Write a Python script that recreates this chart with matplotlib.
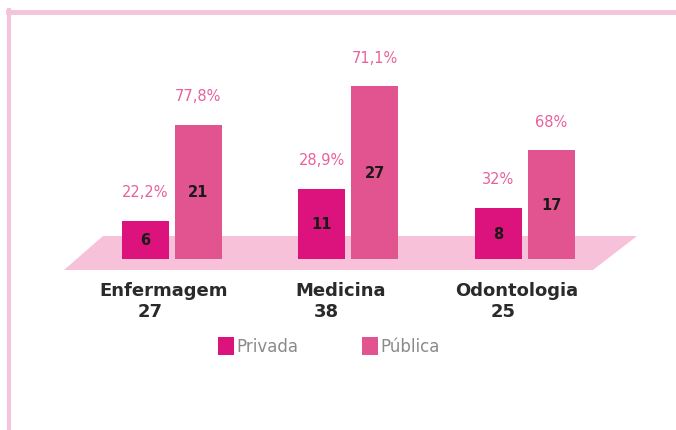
import matplotlib
matplotlib.use("Agg")
import matplotlib.pyplot as plt
from matplotlib.patches import Polygon, Patch
from matplotlib.lines import Line2D
import numpy as np

categories = ["Enfermagem", "Medicina", "Odontologia"]
totals = [27, 38, 25]
privada = [6, 11, 8]
publica = [21, 27, 17]
pct_privada = ["22,2%", "28,9%", "32%"]
pct_publica = ["77,8%", "71,1%", "68%"]
series_names = ["Privada", "Pública"]

C_PRIV = "#dc137c"
C_PUB = "#e2548f"
C_FLOOR = "#f6c1d9"
C_PCT = "#e8619d"
C_FRAME = "#f5c3da"

W, H, DPI = 676, 431, 100
fig = plt.figure(figsize=(W / DPI, H / DPI), dpi=DPI)
fig.patch.set_facecolor("white")

# frame lines (top and left)
fig.add_artist(Line2D([7.5 / W, 1.0], [1 - 12.5 / H, 1 - 12.5 / H], color=C_FRAME, lw=3.5,
                      transform=fig.transFigure))
fig.add_artist(Line2D([8.5 / W, 8.5 / W], [0, 1 - 11 / H], color=C_FRAME, lw=3,
                      transform=fig.transFigure))

# axes: baseline at pixel y=260, 6.4 px per unit
base_px = 260
ppu = 6.4
ymax = 40
ax_h = ppu * ymax
ax = fig.add_axes([0, (H - base_px) / H, 1, ax_h / H])
spacing = 176.5
x0 = 171.75
ax.set_xlim(-x0 / spacing, (W - x0) / spacing)
ax.set_ylim(0, ymax)
ax.axis("off")

x = np.arange(len(categories))
bw = 47 / spacing
off = 26.5 / spacing

def px2x(px):
    return (px - x0) / spacing

def py2y(py):
    return (base_px - py) / ppu

# floor parallelogram (decoration)
floor = Polygon([(px2x(103), py2y(237)), (px2x(637), py2y(237)),
                 (px2x(593), py2y(271)), (px2x(64), py2y(271))],
                closed=True, facecolor=C_FLOOR, edgecolor="none", clip_on=False, zorder=1)
ax.add_patch(floor)

b1 = ax.bar(x - off, privada, bw, color=C_PRIV, zorder=2, clip_on=False)
b2 = ax.bar(x + off, publica, bw, color=C_PUB, zorder=2, clip_on=False)

for bars, vals, pcts in [(b1, privada, pct_privada), (b2, publica, pct_publica)]:
    for rect, v, p in zip(bars, vals, pcts):
        cx = rect.get_x() + rect.get_width() / 2
        ax.text(cx, v / 2, str(v), ha="center", va="center", fontsize=10.5,
                fontweight="bold", color="#1a1a1a", zorder=3)
        ax.annotate(p, xy=(cx, v), xytext=(0, 29 * 0.72), textcoords="offset points",
                    ha="center", va="center", fontsize=10.5, color=C_PCT,
                    annotation_clip=False)

for i, (cat, tot) in enumerate(zip(categories, totals)):
    ax.annotate(cat, xy=(x[i], 0), xytext=(-8 * 0.72, -31 * 0.72), textcoords="offset points",
                ha="center", va="center", fontsize=13, fontweight="bold", color="#2a2a2a",
                annotation_clip=False)
    ax.annotate(str(tot), xy=(x[i], 0), xytext=(-22 * 0.72, -52 * 0.72), textcoords="offset points",
                ha="center", va="center", fontsize=13, fontweight="bold", color="#2a2a2a",
                annotation_clip=False)

handles = [Patch(facecolor=C_PRIV, edgecolor="none"), Patch(facecolor=C_PUB, edgecolor="none")]
leg = fig.legend(handles, series_names, loc="center", bbox_to_anchor=(329 / W, 1 - 347 / H),
                 ncol=2, frameon=False, handlelength=0.95, handleheight=1.3, handletextpad=0.15,
                 columnspacing=3.8, prop={"size": 12})
for t in leg.get_texts():
    t.set_color("#8a8a8a")

fig.savefig("out.png", dpi=DPI, facecolor="white")
